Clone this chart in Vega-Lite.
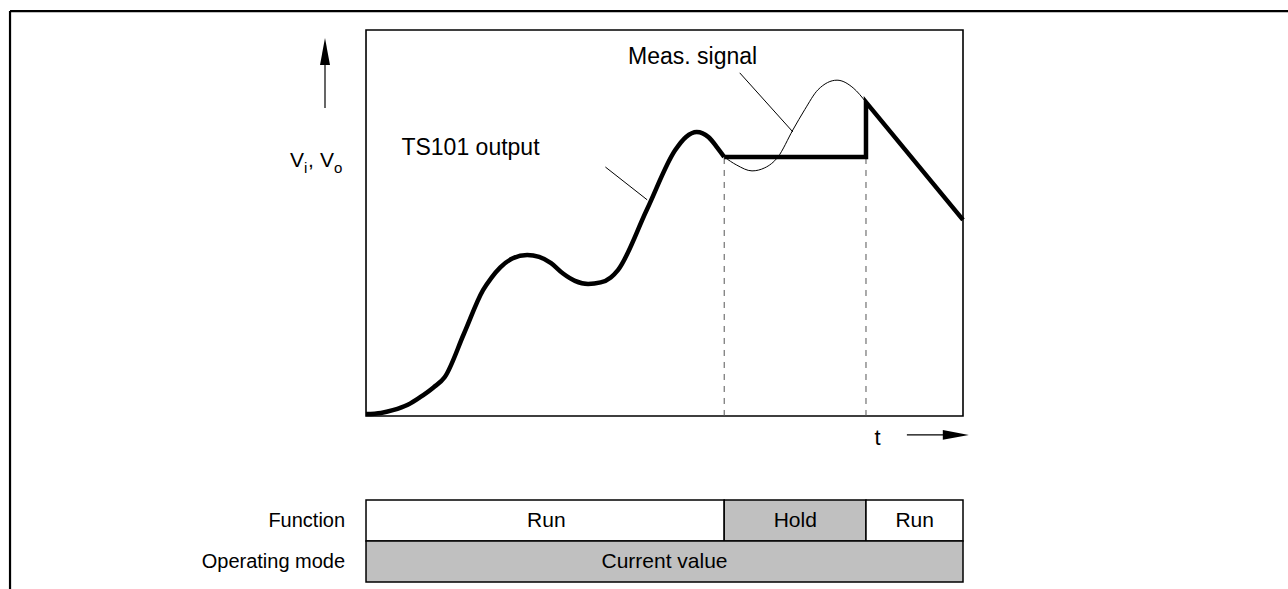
{
  "$schema": "https://vega.github.io/schema/vega-lite/v6.json",
  "width": 1288,
  "height": 589,
  "autosize": {"type": "none"},
  "padding": 0,
  "background": "white",
  "config": {"view": {"stroke": null}, "text": {"font": "Liberation Sans"}},
  "datasets": {
    "outCurve": [
      {"t": 0, "v": 0.5}, {"t": 2.5, "v": 0.8}, {"t": 4.5, "v": 1.5}, {"t": 7, "v": 2.9}, {"t": 9, "v": 4.8},
      {"t": 11.3, "v": 7.4}, {"t": 13.2, "v": 10.1}, {"t": 16.4, "v": 21.3}, {"t": 19.6, "v": 32.6},
      {"t": 21, "v": 35.8}, {"t": 22.5, "v": 38.5}, {"t": 24.5, "v": 40.8}, {"t": 27, "v": 41.7},
      {"t": 29, "v": 41.2}, {"t": 31, "v": 39.6}, {"t": 33, "v": 36.9}, {"t": 35, "v": 35},
      {"t": 37.2, "v": 34.2}, {"t": 39.3, "v": 34.6}, {"t": 41, "v": 35.9}, {"t": 42.2, "v": 37.8},
      {"t": 47, "v": 53.3}, {"t": 51.8, "v": 68.9}, {"t": 53.6, "v": 72.3}, {"t": 55.4, "v": 73.6},
      {"t": 57.4, "v": 72.2}, {"t": 58.8, "v": 69.6}, {"t": 60, "v": 67.1}
    ],
    "outHold": [
      {"t": 60, "v": 67.1, "k": 1}, {"t": 83.75, "v": 67.1, "k": 2},
      {"t": 83.75, "v": 81.3, "k": 3}, {"t": 100, "v": 50.8, "k": 4}
    ],
    "meas": [
      {"t": 60, "v": 67.1}, {"t": 62.1, "v": 65.0}, {"t": 64.66, "v": 63.5}, {"t": 66.8, "v": 64.3},
      {"t": 69.0, "v": 67.1}, {"t": 71.5, "v": 74.1}, {"t": 73.5, "v": 79.4}, {"t": 75.7, "v": 84.5},
      {"t": 78.9, "v": 87.0}, {"t": 81.6, "v": 85.0}, {"t": 83.75, "v": 81.3}
    ],
    "leaders": [
      {"id": "ts", "t": 40.1, "v": 64.5}, {"id": "ts", "t": 47.1, "v": 56.0},
      {"id": "ms", "t": 62.6, "v": 88.9}, {"id": "ms", "t": 71.5, "v": 73.6}
    ],
    "dashes": [{"t": 60, "v": 0, "v2": 67.1}, {"t": 83.75, "v": 0, "v2": 67.1}],
    "box": [{"t": 0, "t2": 100, "v": 0, "v2": 100}],
    "bars": [
      {"t": 0, "t2": 60, "v": -21.76, "v2": -32.38, "state": "Run"},
      {"t": 60, "t2": 83.75, "v": -21.76, "v2": -32.38, "state": "Hold"},
      {"t": 83.75, "t2": 100, "v": -21.76, "v2": -32.38, "state": "Run"},
      {"t": 0, "t2": 100, "v": -32.38, "v2": -43.0, "state": "Current value"}
    ],
    "barLabels": [
      {"t": 30.2, "v": -27.1, "label": "Run"},
      {"t": 71.9, "v": -27.1, "label": "Hold"},
      {"t": 91.9, "v": -27.1, "label": "Run"},
      {"t": 50.0, "v": -37.7, "label": "Current value"}
    ],
    "frame": [
      {"t": -59.63, "t2": 154.44, "v": 104.9, "v2": 104.9},
      {"t": -59.63, "t2": -59.63, "v": 104.9, "v2": -44.82}
    ],
    "plotText": [
      {"t": 17.5, "v": 69.3, "label": "TS101 output"},
      {"t": 54.7, "v": 93.0, "label": "Meas. signal"}
    ],
    "tText": [{"t": 85.7, "v": -5.6, "label": "t"}],
    "rowLabels": [
      {"t": -3.5, "v": -27.1, "label": "Function"},
      {"t": -3.5, "v": -37.7, "label": "Operating mode"}
    ],
    "vMain": [
      {"t": -12.73, "v": 64.4, "label": "V"},
      {"t": -9.72, "v": 64.4, "label": ","},
      {"t": -7.71, "v": 64.4, "label": "V"}
    ],
    "vSub": [
      {"t": -10.39, "v": 63.0, "label": "i"},
      {"t": -5.36, "v": 63.0, "label": "o"}
    ],
    "shafts": [
      {"t": -6.87, "t2": -6.87, "v": 79.8, "v2": 92.5},
      {"t": 90.6, "t2": 97.2, "v": -4.9, "v2": -4.9}
    ],
    "headUp": [{"t": -6.87, "v": 94.4}],
    "headRight": [{"t": 98.8, "v": -4.9}]
  },
  "encoding": {
    "x": {"field": "t", "type": "quantitative", "axis": null,
          "scale": {"domain": [-61.31, 154.44], "nice": false, "zero": false}},
    "y": {"field": "v", "type": "quantitative", "axis": null,
          "scale": {"domain": [-44.82, 107.77], "nice": false, "zero": false}}
  },
  "layer": [
    {"data": {"name": "frame"}, "mark": {"type": "rule", "color": "black", "strokeWidth": 2.2},
     "encoding": {"x2": {"field": "t2"}, "y2": {"field": "v2"}}},
    {"data": {"name": "bars"}, "mark": {"type": "rect", "stroke": "black", "strokeWidth": 1.5},
     "encoding": {"x2": {"field": "t2"}, "y2": {"field": "v2"},
       "fill": {"field": "state", "type": "nominal", "legend": null,
         "scale": {"domain": ["Run", "Hold", "Current value"], "range": ["#ffffff", "#c0c0c0", "#c0c0c0"]}}}},
    {"data": {"name": "barLabels"}, "mark": {"type": "text", "fontSize": 21, "align": "center", "baseline": "middle", "color": "black"},
     "encoding": {"text": {"field": "label"}}},
    {"data": {"name": "box"}, "mark": {"type": "rect", "filled": false, "stroke": "black", "strokeWidth": 1.6},
     "encoding": {"x2": {"field": "t2"}, "y2": {"field": "v2"}}},
    {"data": {"name": "dashes"}, "mark": {"type": "rule", "color": "#555555", "strokeWidth": 1, "strokeDash": [6, 6]},
     "encoding": {"y2": {"field": "v2"}}},
    {"data": {"name": "meas"}, "mark": {"type": "line", "color": "black", "strokeWidth": 1, "interpolate": "monotone"},
     "encoding": {}},
    {"data": {"name": "outCurve"}, "mark": {"type": "line", "color": "black", "strokeWidth": 4.5, "interpolate": "monotone", "strokeCap": "butt"},
     "encoding": {}},
    {"data": {"name": "outHold"}, "mark": {"type": "line", "color": "black", "strokeWidth": 4.5, "strokeJoin": "miter", "strokeCap": "butt"},
     "encoding": {"order": {"field": "k", "type": "quantitative"}}},
    {"data": {"name": "leaders"}, "mark": {"type": "line", "color": "black", "strokeWidth": 1},
     "encoding": {"detail": {"field": "id", "type": "nominal"}}},
    {"data": {"name": "shafts"}, "mark": {"type": "rule", "color": "black", "strokeWidth": 1.2},
     "encoding": {"x2": {"field": "t2"}, "y2": {"field": "v2"}}},
    {"data": {"name": "headUp"}, "mark": {"type": "point", "filled": true, "color": "black", "opacity": 1,
       "shape": "M0,-1L0.37,1L-0.37,1Z", "size": 729}, "encoding": {}},
    {"data": {"name": "headRight"}, "mark": {"type": "point", "filled": true, "color": "black", "opacity": 1,
       "shape": "M1,0L-1,-0.38L-1,0.38Z", "size": 676}, "encoding": {}},
    {"data": {"name": "plotText"}, "mark": {"type": "text", "fontSize": 23, "align": "center", "baseline": "middle", "color": "black"},
     "encoding": {"text": {"field": "label"}}},
    {"data": {"name": "tText"}, "mark": {"type": "text", "fontSize": 22, "align": "center", "baseline": "middle", "color": "black"},
     "encoding": {"text": {"field": "label"}}},
    {"data": {"name": "rowLabels"}, "mark": {"type": "text", "fontSize": 20, "align": "right", "baseline": "middle", "color": "black"},
     "encoding": {"text": {"field": "label"}}},
    {"data": {"name": "vMain"}, "mark": {"type": "text", "fontSize": 21, "align": "left", "baseline": "alphabetic", "color": "black"},
     "encoding": {"text": {"field": "label"}}},
    {"data": {"name": "vSub"}, "mark": {"type": "text", "fontSize": 15, "align": "left", "baseline": "alphabetic", "color": "black"},
     "encoding": {"text": {"field": "label"}}}
  ]
}
